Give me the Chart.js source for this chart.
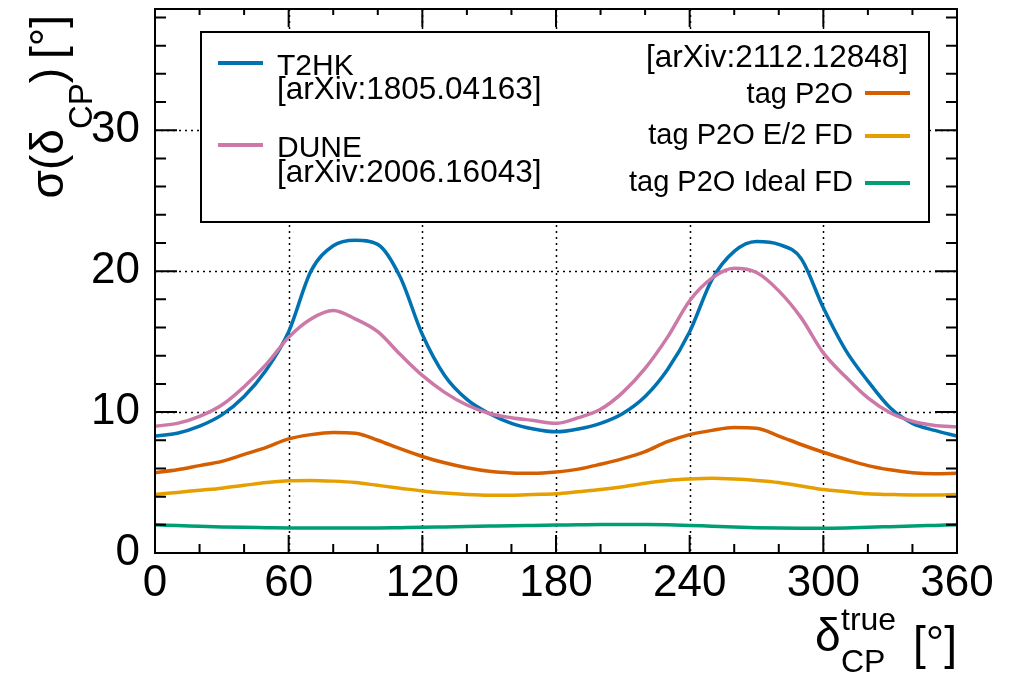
<!DOCTYPE html>
<html>
<head>
<meta charset="utf-8">
<script src="https://cdn.jsdelivr.net/npm/chart.js@4.4.1/dist/chart.umd.min.js"></script>
<style>
  body { margin: 0; background: #fff; }
  canvas { display: block; }
</style>
</head>
<body>
<canvas id="chart" width="1023" height="673"></canvas>
<script>
// true delta_CP values (degrees)
const deltaCP = [0, 10, 20, 30, 40, 50, 60, 70, 80, 90, 100, 110, 120, 130, 140, 150, 160, 170, 180,
                 190, 200, 210, 220, 230, 240, 250, 260, 270, 280, 290, 300, 310, 320, 330, 340, 350, 360];

// sigma(delta_CP) in degrees
const t2hk = [8.3, 8.5, 9.0, 9.8, 11.1, 13.0, 15.7, 20.0, 21.8, 22.2, 21.9, 19.6, 15.5, 12.6, 10.9, 9.9, 9.2, 8.8, 8.6,
              8.8, 9.2, 9.9, 11.1, 13.0, 15.7, 19.4, 21.4, 22.1, 21.9, 20.9, 17.4, 14.4, 12.2, 10.3, 9.2, 8.7, 8.3];
const dune = [9.0, 9.2, 9.7, 10.5, 11.8, 13.4, 15.3, 16.6, 17.2, 16.6, 15.7, 14.1, 12.6, 11.4, 10.5, 9.9, 9.6, 9.4, 9.2,
              9.6, 10.2, 11.4, 13.1, 15.3, 17.9, 19.5, 20.2, 19.9, 18.6, 16.7, 14.2, 12.5, 11.0, 9.95, 9.35, 9.05, 8.95];
const tagP2O = [5.7, 5.9, 6.2, 6.5, 7.0, 7.5, 8.1, 8.4, 8.55, 8.5, 8.0, 7.4, 6.85, 6.4, 6.05, 5.8, 5.68, 5.65, 5.75,
                5.95, 6.3, 6.7, 7.2, 7.9, 8.4, 8.7, 8.9, 8.85, 8.3, 7.7, 7.15, 6.65, 6.2, 5.9, 5.7, 5.63, 5.65];
const tagP2OHalfE = [4.15, 4.3, 4.45, 4.6, 4.8, 5.0, 5.12, 5.15, 5.1, 5.0, 4.8, 4.6, 4.4, 4.25, 4.15, 4.1, 4.1, 4.15, 4.2,
                     4.35, 4.5, 4.7, 4.95, 5.15, 5.25, 5.3, 5.25, 5.15, 5.0, 4.75, 4.5, 4.35, 4.2, 4.15, 4.12, 4.12, 4.15];
const tagP2OIdeal = [2.0, 1.95, 1.9, 1.85, 1.82, 1.8, 1.78, 1.77, 1.77, 1.77, 1.78, 1.8, 1.82, 1.85, 1.88, 1.91, 1.94, 1.96, 1.98,
                     2.0, 2.02, 2.03, 2.02, 2.0, 1.96, 1.9, 1.85, 1.8, 1.77, 1.76, 1.76, 1.78, 1.82, 1.87, 1.92, 1.96, 2.0];

const xTicks = [0, 60, 120, 180, 240, 300, 360];
const yTicks = [0, 10, 20, 30];

const FONT = '"Liberation Sans", Arial, Helvetica, sans-serif';
const col = { t2hk: '#0072B2', dune: '#CC79A7', p2o: '#D55E00', half: '#E69F00', ideal: '#009E73' };

function series(vals) {
  return deltaCP.map((d, i) => ({ x: d, y: vals[i] }));
}
function ds(label, vals, color) {
  return {
    label: label, data: series(vals), borderColor: color, backgroundColor: color,
    borderWidth: 3.5, pointRadius: 0, fill: false, cubicInterpolationMode: 'monotone'
  };
}

// draw a run of text pieces [text, size, dy, extraGap] one after another
function runText(ctx, pieces, x0, y0) {
  let x = x0;
  for (const p of pieces) {
    ctx.font = p[1] + 'px ' + FONT;
    ctx.fillText(p[0], x, y0 + (p[2] || 0));
    x += ctx.measureText(p[0]).width + (p[3] || 0);
  }
  return x;
}
function runWidth(ctx, pieces) {
  let w = 0;
  for (const p of pieces) {
    ctx.font = p[1] + 'px ' + FONT;
    w += ctx.measureText(p[0]).width + (p[3] || 0);
  }
  return w;
}

const rootStyle = {
  id: 'rootStyle',
  beforeDatasetsDraw(chart) {
    const { ctx, chartArea: a, scales: { x, y } } = chart;
    ctx.save();
    ctx.strokeStyle = '#000';
    ctx.lineWidth = 1.5;
    ctx.setLineDash([2, 4]);
    ctx.beginPath();
    xTicks.forEach(v => {
      if (v <= 0 || v >= 360) return;
      const px = Math.round(x.getPixelForValue(v)) + 0.5;
      ctx.moveTo(px, a.top); ctx.lineTo(px, a.bottom);
    });
    yTicks.forEach(v => {
      if (v <= 0) return;
      const py = Math.round(y.getPixelForValue(v)) + 0.5;
      ctx.moveTo(a.left, py); ctx.lineTo(a.right, py);
    });
    ctx.stroke();
    ctx.restore();
  },
  afterDraw(chart) {
    const { ctx, chartArea: a, scales: { x, y } } = chart;
    ctx.save();
    ctx.strokeStyle = '#000';
    ctx.fillStyle = '#000';
    ctx.lineWidth = 2;

    // ticks, pointing inward on all four sides
    ctx.beginPath();
    for (let v = 0; v <= 360; v += 20) {
      const px = x.getPixelForValue(v);
      const major = v % 60 === 0;
      ctx.moveTo(px, a.bottom); ctx.lineTo(px, a.bottom - (major ? 18 : 9));
      ctx.moveTo(px, a.top); ctx.lineTo(px, a.top + (major ? 18 : 6));
    }
    for (let v = 0; v <= 38; v += 2) {
      const py = y.getPixelForValue(v);
      const len = v % 10 === 0 ? 22 : 11;
      ctx.moveTo(a.left, py); ctx.lineTo(a.left + len, py);
      ctx.moveTo(a.right, py); ctx.lineTo(a.right - len, py);
    }
    ctx.stroke();
    ctx.strokeRect(a.left, a.top, a.right - a.left, a.bottom - a.top);

    // legend box
    ctx.fillStyle = '#fff';
    ctx.fillRect(201, 32, 728, 190);
    ctx.strokeRect(201, 32, 728, 190);
    ctx.fillStyle = '#000';
    ctx.textBaseline = 'alphabetic';

    const legLine = (x1, x2, yy, c) => {
      ctx.strokeStyle = c; ctx.lineWidth = 4;
      ctx.beginPath(); ctx.moveTo(x1, yy); ctx.lineTo(x2, yy); ctx.stroke();
    };
    legLine(218, 263, 63, col.t2hk);
    legLine(218, 263, 145, col.dune);
    ctx.textAlign = 'left';
    ctx.font = '30px ' + FONT;
    ctx.fillText('T2HK', 277, 75);
    ctx.fillText('DUNE', 277, 157);
    ctx.font = '31.5px ' + FONT;
    ctx.fillText('[arXiv:1805.04163]', 277, 99);
    ctx.fillText('[arXiv:2006.16043]', 277, 182);

    ctx.textAlign = 'right';
    ctx.fillText('[arXiv:2112.12848]', 908, 67);
    ctx.font = '29px ' + FONT;
    ctx.fillText('tag P2O', 853, 103);
    ctx.fillText('tag P2O E/2 FD', 853, 144);
    ctx.fillText('tag P2O Ideal FD', 853, 191);
    legLine(865, 910, 93, col.p2o);
    legLine(865, 910, 136, col.half);
    legLine(865, 910, 183, col.ideal);

    // x axis title
    ctx.fillStyle = '#000';
    ctx.textAlign = 'left';
    ctx.font = '46px ' + FONT;
    ctx.fillText('\u03B4', 815, 651);
    ctx.font = '32px ' + FONT;
    ctx.fillText('true', 841, 630);
    ctx.fillText('CP', 841, 672);
    ctx.font = '46px ' + FONT;
    ctx.textAlign = 'right';
    ctx.fillText('[\u00B0]', 957, 659);

    // y axis title (rotated)
    ctx.textAlign = 'left';
    const pieces = [['\u03C3(\u03B4', 46, 0], ['CP', 33, 29], [')', 46, 0, 9], ['[\u00B0]', 46, 0]];
    const w = runWidth(ctx, pieces);
    ctx.translate(63, 15 + w);
    ctx.rotate(-Math.PI / 2);
    runText(ctx, pieces, 0, 0);
    ctx.restore();
  }
};

new Chart(document.getElementById('chart'), {
  type: 'line',
  data: {
    datasets: [
      ds('tag P2O Ideal FD', tagP2OIdeal, col.ideal),
      ds('tag P2O E/2 FD', tagP2OHalfE, col.half),
      ds('tag P2O', tagP2O, col.p2o),
      ds('DUNE', dune, col.dune),
      ds('T2HK', t2hk, col.t2hk)
    ]
  },
  options: {
    responsive: false,
    animation: false,
    devicePixelRatio: 1,
    layout: { padding: { top: 9, right: 66, left: 0, bottom: 0 } },
    plugins: { legend: { display: false }, tooltip: { enabled: false } },
    scales: {
      x: {
        type: 'linear', min: 0, max: 360,
        grid: { display: false },
        border: { display: false },
        ticks: { stepSize: 60, maxRotation: 0, autoSkip: false, padding: -4, color: '#000',
                 font: { family: FONT, size: 44 } },
        afterBuildTicks: s => { s.ticks = s.ticks.filter(t => xTicks.includes(t.value)); },
        afterFit: s => { s.height = 120; s.paddingLeft = 0; s.paddingRight = 0; }
      },
      y: {
        type: 'linear', min: 0, max: 38.6,
        grid: { display: false },
        border: { display: false },
        ticks: { stepSize: 10, padding: 7, color: '#000', font: { family: FONT, size: 44 } },
        afterBuildTicks: s => { s.ticks = s.ticks.filter(t => yTicks.includes(t.value)); },
        afterFit: s => { s.width = 155; s.paddingTop = 0; s.paddingBottom = 0; }
      }
    }
  },
  plugins: [rootStyle]
});
</script>
</body>
</html>
